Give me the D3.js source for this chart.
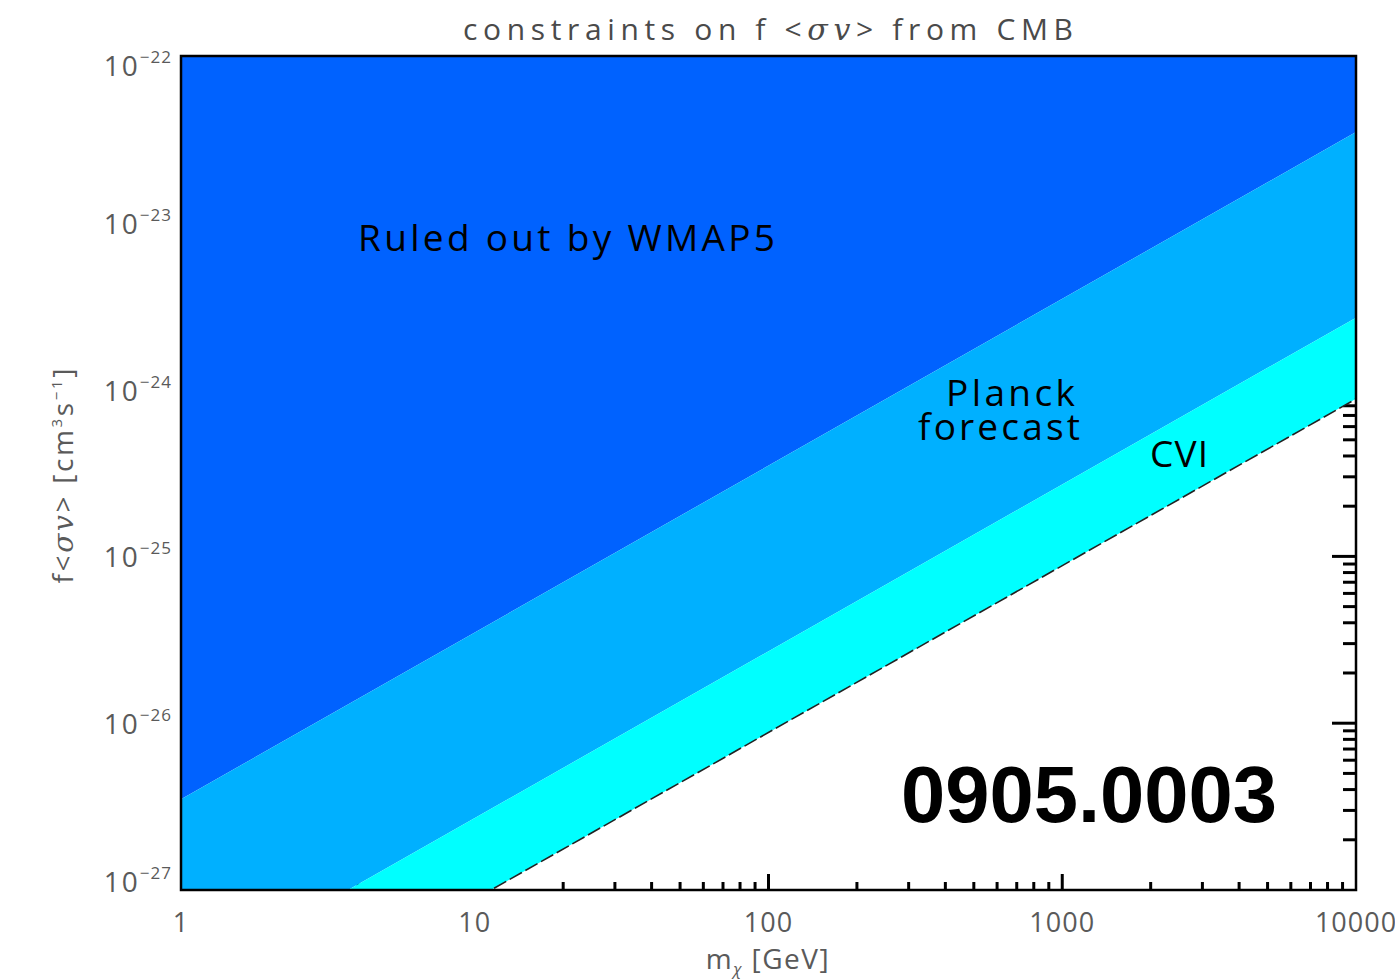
<!DOCTYPE html>
<html>
<head>
<meta charset="utf-8">
<script src="https://cdn.jsdelivr.net/npm/d3@7"></script>
<style>
  body { margin: 0; background: #fff; }
  svg { display: block; }
</style>
</head>
<body>
<script>
// limits on f<sigma v> vs mass, straight lines in log-log (slope 1)
var masses = [1, 10000];
var wmap5Limit = [3.5e-27, 3.5e-23];
var planckLimit = [2.7e-28, 2.7e-24];
var cviLimit = [8.8e-29, 8.8e-25];

var xTickValues = [1, 10, 100, 1000, 10000];
var xTickLabels = ['1', '10', '100', '1000', '10000'];
var yTickExps = [-22, -23, -24, -25, -26, -27];

(function () {
    var W = 1395, H = 979;
    var pLeft = 181, pRight = 1356, pTop = 56, pBottom = 890;
    var font = '"Open Sans", "DejaVu Sans", sans-serif';

    var svg = d3.select('body').append('svg').attr('width', W).attr('height', H)
        .attr('font-family', font);

    var x = d3.scaleLog().domain([1, 10000]).range([pLeft, pRight]);
    var y = d3.scaleLog().domain([1e-27, 1e-22]).range([pBottom, pTop]);

    // minor + major ticks (drawn first, the bands cover them)
    var ticks = svg.append('g').attr('class', 'ticks').attr('stroke', '#000').attr('stroke-width', 3);
    var xMinor = [], yMinor = [];
    for (var d = 1; d < 10000; d *= 10) {
        for (var k = 2; k < 10; k++) xMinor.push(d * k);
    }
    for (var e = -27; e < -22; e++) {
        for (var k2 = 2; k2 < 10; k2++) yMinor.push(k2 * Math.pow(10, e));
    }
    ticks.selectAll('line.xmin').data(xMinor).enter().append('line')
        .attr('x1', function (v) { return x(v); }).attr('x2', function (v) { return x(v); })
        .attr('y1', pBottom).attr('y2', pBottom - 8);
    ticks.selectAll('line.xmaj').data(xTickValues.slice(1, 4)).enter().append('line')
        .attr('x1', function (v) { return x(v); }).attr('x2', function (v) { return x(v); })
        .attr('y1', pBottom).attr('y2', pBottom - 16);
    ticks.selectAll('line.ymin').data(yMinor).enter().append('line')
        .attr('y1', function (v) { return y(v); }).attr('y2', function (v) { return y(v); })
        .attr('x1', pRight).attr('x2', pRight - 13);
    ticks.selectAll('line.ymaj').data(yTickExps.slice(1, 5)).enter().append('line')
        .attr('y1', function (e) { return y(Math.pow(10, e)); }).attr('y2', function (e) { return y(Math.pow(10, e)); })
        .attr('x1', pRight).attr('x2', pRight - 24);

    // bands
    var pts = function (vals) {
        return masses.map(function (m, i) { return [x(m), y(vals[i])]; });
    };
    svg.append('defs').append('clipPath').attr('id', 'plotclip').append('rect')
        .attr('x', pLeft).attr('y', pTop).attr('width', pRight - pLeft).attr('height', pBottom - pTop);

    var bands = svg.append('g').attr('clip-path', 'url(#plotclip)');
    var line = d3.line();

    function band(lower, upper, color) {
        var lo = pts(lower);
        var hi = upper ? pts(upper).reverse() : [[pRight, pTop - 10], [pLeft, pTop - 10]];
        bands.append('path').attr('d', line(lo.concat(hi)) + 'Z').attr('fill', color);
    }
    band(wmap5Limit, null, '#0062ff');
    band(planckLimit, wmap5Limit, '#00b0ff');
    band(cviLimit, planckLimit, '#00ffff');

    bands.append('path').attr('d', line(pts(cviLimit)))
        .attr('fill', 'none').attr('stroke', '#222').attr('stroke-width', 1.6)
        .attr('stroke-dasharray', '14,4');

    // frame
    svg.append('rect').attr('x', pLeft).attr('y', pTop).attr('width', pRight - pLeft).attr('height', pBottom - pTop)
        .attr('fill', 'none').attr('stroke', '#000').attr('stroke-width', 2.5);

    // x tick labels
    svg.append('g').selectAll('text').data(xTickValues).enter().append('text')
        .attr('x', function (v) { return x(v); }).attr('y', 932)
        .attr('text-anchor', 'middle').attr('fill', '#5a5a5a').attr('font-size', 27)
        .attr('letter-spacing', 1)
        .text(function (v, i) { return xTickLabels[i]; });

    // y tick labels; IDL nudges the end labels inside the axis range
    var yl = svg.append('g').selectAll('text').data(yTickExps).enter().append('text')
        .attr('x', 172).attr('y', function (e) {
            var base = y(Math.pow(10, e)) + 11;
            return Math.min(Math.max(base, pTop + 20), pBottom + 2);
        })
        .attr('text-anchor', 'end').attr('fill', '#5a5a5a').attr('font-size', 28).attr('letter-spacing', 2);
    yl.append('tspan').text('10');
    yl.append('tspan').attr('font-size', 17).attr('dy', -13).attr('dx', 0).attr('letter-spacing', 1)
        .text(function (e) { return '\u2212' + (-e); });

    // title
    var title = svg.append('text').attr('x', 768).attr('y', 40).attr('text-anchor', 'middle')
        .attr('fill', '#4a4a4a').attr('font-size', 30)
        .attr('textLength', 610).attr('lengthAdjust', 'spacing');
    title.append('tspan').text('constraints on f <');
    title.append('tspan').attr('font-family', '"DejaVu Serif", serif').attr('font-style', 'italic').text('\u03c3v');
    title.append('tspan').text('> from CMB');

    // x label
    var xl = svg.append('text').attr('x', 768).attr('y', 969).attr('text-anchor', 'middle')
        .attr('fill', '#5a5a5a').attr('font-size', 28).attr('letter-spacing', 1.5);
    xl.append('tspan').text('m');
    xl.append('tspan').attr('font-size', 16).attr('dy', 6).attr('font-style', 'italic').text('\u03c7');
    xl.append('tspan').attr('dy', -6).text(' [GeV]');

    // y label
    var ylab = svg.append('text').attr('transform', 'translate(73,476) rotate(-90)').attr('text-anchor', 'middle')
        .attr('fill', '#5a5a5a').attr('font-size', 28)
        .attr('textLength', 215).attr('lengthAdjust', 'spacing');
    ylab.append('tspan').text('f<');
    ylab.append('tspan').attr('font-family', '"DejaVu Serif", serif').attr('font-style', 'italic').text('\u03c3v');
    ylab.append('tspan').text('> [cm');
    ylab.append('tspan').attr('font-size', 15).attr('dy', -11).text('3');
    ylab.append('tspan').attr('dy', 11).text('s');
    ylab.append('tspan').attr('font-size', 15).attr('dy', -11).text('\u22121');
    ylab.append('tspan').attr('dy', 11).text(']');

    // region labels
    var lab = svg.append('g').attr('fill', '#000').attr('font-size', 37).attr('lengthAdjust', 'spacing');
    lab.append('text').attr('x', 358).attr('y', 251).attr('textLength', 417).text('Ruled out by WMAP5');
    lab.append('text').attr('x', 946).attr('y', 406).attr('textLength', 129).text('Planck');
    lab.append('text').attr('x', 918).attr('y', 440).attr('textLength', 162).text('forecast');
    lab.append('text').attr('x', 1150).attr('y', 467).attr('textLength', 58).text('CVI');

    svg.append('text').attr('x', 901).attr('y', 822)
        .attr('font-family', '"Liberation Sans", Arial, sans-serif').attr('font-weight', 'bold')
        .attr('font-size', 80).attr('textLength', 376).attr('lengthAdjust', 'spacingAndGlyphs')
        .attr('fill', '#000').text('0905.0003');
})();
</script>
</body>
</html>
